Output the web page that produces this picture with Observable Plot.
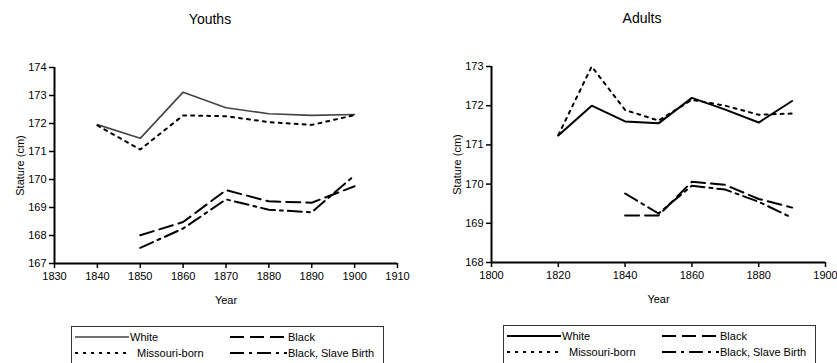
<!DOCTYPE html>
<html>
<head>
<meta charset="utf-8">
<script src="https://cdn.jsdelivr.net/npm/d3@7"></script>
<script src="https://cdn.jsdelivr.net/npm/@observablehq/plot@0.6"></script>
<style>
  html, body { margin: 0; padding: 0; background: #fff; overflow: hidden; }
  body { width: 837px; height: 363px; position: relative; font-family: "Liberation Sans", Arial, sans-serif; }
  .panel { position: absolute; top: 0; }
  .title { position: absolute; font-size: 14px; color: #000; transform: translateX(-50%); white-space: nowrap; }
  .legend { position: absolute; border: 1px solid #333; background: #fff; height: 46px; box-sizing: border-box; font-size: 11px; }
  .legend .item { position: absolute; display: flex; align-items: center; white-space: nowrap; }
  .legend svg { display: block; }
</style>
</head>
<body>
<div id="left" class="panel" style="left:0px"></div>
<div id="right" class="panel" style="left:419px"></div>
<div class="title" style="left:210px; top:11px">Youths</div>
<div class="title" style="left:642px; top:10px">Adults</div>
<div id="legL" class="legend" style="left:71px; top:326px; width:313px"></div>
<div id="legR" class="legend" style="left:503px; top:325px; width:313px"></div>
<script>
// ---- Data ----
const seriesNames = ["White", "Missouri-born", "Black", "Black, Slave Birth"];

const youthYears = [1840, 1850, 1860, 1870, 1880, 1890, 1900];
const youthWhite = [171.96, 171.47, 173.12, 172.56, 172.35, 172.29, 172.32];
const youthMissouri = [171.93, 171.07, 172.29, 172.26, 172.05, 171.95, 172.30];
const youthBlackYears = [1850, 1860, 1870, 1880, 1890, 1900];
const youthBlack = [168.01, 168.48, 169.62, 169.22, 169.17, 169.76];
const youthSlave = [167.56, 168.25, 169.29, 168.92, 168.83, 170.15];

const adultYears = [1820, 1830, 1840, 1850, 1860, 1870, 1880, 1890];
const adultWhite = [171.24, 172.0, 171.6, 171.55, 172.2, 171.9, 171.57, 172.12];
const adultMissouri = [171.25, 173.0, 171.89, 171.62, 172.15, 172.0, 171.77, 171.8];
const adultBlackYears = [1840, 1850, 1860, 1870, 1880, 1890];
const adultBlack = [169.2, 169.2, 170.06, 169.98, 169.62, 169.4];
const adultSlave = [169.76, 169.25, 169.96, 169.86, 169.55, 169.14];

const youthXTicks = [1830, 1840, 1850, 1860, 1870, 1880, 1890, 1900, 1910];
const youthYTicks = [167, 168, 169, 170, 171, 172, 173, 174];
const adultXTicks = [1800, 1820, 1840, 1860, 1880, 1900];
const adultYTicks = [168, 169, 170, 171, 172, 173];

// ---- Styles ----
const styles = {
  "White": {dash: null, width: 2},
  "Missouri-born": {dash: "3,5", width: 2},
  "Black": {dash: "14,6", width: 2},
  "Black, Slave Birth": {dash: "14,5,3,5", width: 2}
};

function rows(years, vals, name) {
  return years.map((y, i) => ({year: y, value: vals[i], series: name}));
}

function lineMarks(data, whiteColor, whiteWidth) {
  return seriesNames.map(name => {
    const st = styles[name];
    return Plot.line(data.filter(d => d.series === name), {
      x: "year", y: "value",
      stroke: name === "White" ? whiteColor : "#000",
      strokeWidth: name === "White" ? whiteWidth : st.width,
      strokeDasharray: st.dash || undefined,
      strokeLinejoin: "miter"
    });
  });
}

const fmt = d => String(d);

function makeChart({data, xDomain, yDomain, xTicks, yTicks, width, height, mt, mr, mb, ml, whiteColor, whiteWidth}) {
  return Plot.plot({
    width, height,
    marginTop: mt, marginRight: mr, marginBottom: mb, marginLeft: ml,
    style: {fontFamily: "'Liberation Sans', Arial, sans-serif", fontSize: "11px", color: "#000", background: "#fff", overflow: "visible"},
    x: {domain: xDomain},
    y: {domain: yDomain},
    marks: [
      Plot.axisX({ticks: xTicks, tickFormat: fmt, tickSize: 5, tickPadding: 4, label: "Year", labelAnchor: "center", labelOffset: 40, labelArrow: "none", strokeWidth: 1.5}),
      Plot.axisY({ticks: yTicks, tickFormat: fmt, tickSize: 5, tickPadding: 3, label: "Stature (cm)", labelAnchor: "center", labelOffset: 38, labelArrow: "none", strokeWidth: 1.5}),
      Plot.ruleX([xDomain[0]], {strokeWidth: 2}),
      Plot.ruleY([yDomain[0]], {strokeWidth: 2}),
      ...lineMarks(data, whiteColor, whiteWidth)
    ]
  });
}

const youthData = [
  ...rows(youthYears, youthWhite, "White"),
  ...rows(youthYears, youthMissouri, "Missouri-born"),
  ...rows(youthBlackYears, youthBlack, "Black"),
  ...rows(youthBlackYears, youthSlave, "Black, Slave Birth")
];
const adultData = [
  ...rows(adultYears, adultWhite, "White"),
  ...rows(adultYears, adultMissouri, "Missouri-born"),
  ...rows(adultBlackYears, adultBlack, "Black"),
  ...rows(adultBlackYears, adultSlave, "Black, Slave Birth")
];

document.getElementById("left").append(makeChart({
  data: youthData, xDomain: [1830, 1910], yDomain: [167, 174], xTicks: youthXTicks, yTicks: youthYTicks,
  width: 418, height: 310, mt: 67, mr: 21, mb: 47, ml: 54, whiteColor: "#444", whiteWidth: 1.6
}));
document.getElementById("right").append(makeChart({
  data: adultData, xDomain: [1800, 1900], yDomain: [168, 173], xTicks: adultXTicks, yTicks: adultYTicks,
  width: 418, height: 310, mt: 66, mr: 12, mb: 48, ml: 72, whiteColor: "#000", whiteWidth: 2
}));

// ---- Legends ----
function legend(el, whiteColor, whiteWidth) {
  const pos = [
    {name: "White", left: 3, top: 2, sw: 54, gap: 1},
    {name: "Black", left: 158, top: 2, sw: 57, gap: 1},
    {name: "Missouri-born", left: 3, top: 18, sw: 54, gap: 8},
    {name: "Black, Slave Birth", left: 158, top: 18, sw: 57, gap: 1}
  ];
  pos.forEach(p => {
    const st = styles[p.name];
    const item = document.createElement("div");
    item.className = "item";
    item.style.left = p.left + "px";
    item.style.top = p.top + "px";
    item.style.height = "16px";
    const color = p.name === "White" ? whiteColor : "#000";
    const w = p.name === "White" ? whiteWidth : st.width;
    item.innerHTML = `<svg width="${p.sw}" height="16"><line x1="0" x2="${p.sw}" y1="8" y2="8" stroke="${color}" stroke-width="${w}" ${st.dash ? `stroke-dasharray="${st.dash}"` : ""}/></svg><span style="margin-left:${p.gap}px">${p.name}</span>`;
    el.append(item);
  });
}
legend(document.getElementById("legL"), "#444", 1.6);
legend(document.getElementById("legR"), "#000", 2);
</script>
</body>
</html>
